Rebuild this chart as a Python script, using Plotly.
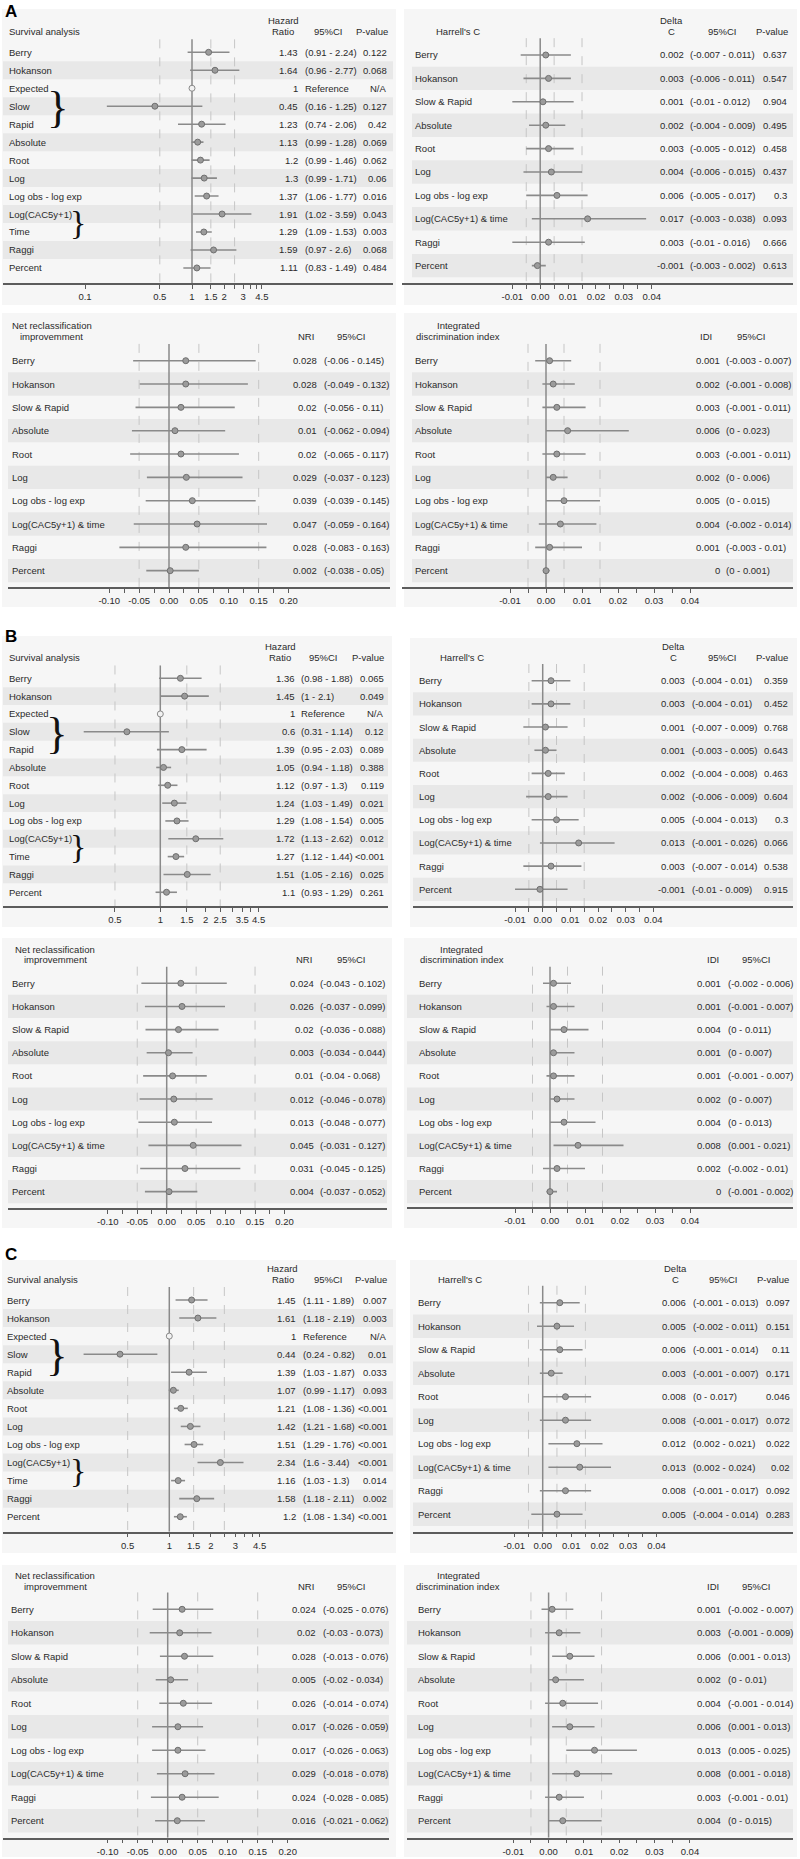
import plotly.graph_objects as go

W, H = 800, 1859

# ---------------- data ----------------
surv_labels = ["Berry", "Hokanson", "Expected", "Slow", "Rapid", "Absolute", "Root", "Log",
               "Log obs - log exp", "Log(CAC5y+1)", "Time", "Raggi", "Percent"]
disc_labels = ["Berry", "Hokanson", "Slow & Rapid", "Absolute", "Root", "Log",
               "Log obs - log exp", "Log(CAC5y+1) & time", "Raggi", "Percent"]

# Panel A
A_surv_hr = [1.43, 1.64, 1, 0.45, 1.23, 1.13, 1.2, 1.3, 1.37, 1.91, 1.29, 1.59, 1.11]
A_surv_lo = [0.91, 0.96, None, 0.16, 0.74, 0.99, 0.99, 0.99, 1.06, 1.02, 1.09, 0.97, 0.83]
A_surv_hi = [2.24, 2.77, None, 1.25, 2.06, 1.28, 1.46, 1.71, 1.77, 3.59, 1.53, 2.6, 1.49]
A_surv_p = ["0.122", "0.068", "N/A", "0.127", "0.42", "0.069", "0.062", "0.06", "0.016",
            "0.043", "0.003", "0.068", "0.484"]

A_c_est = [0.002, 0.003, 0.001, 0.002, 0.003, 0.004, 0.006, 0.017, 0.003, -0.001]
A_c_lo = [-0.007, -0.006, -0.01, -0.004, -0.005, -0.006, -0.005, -0.003, -0.01, -0.003]
A_c_hi = [0.011, 0.011, 0.012, 0.009, 0.012, 0.015, 0.017, 0.038, 0.016, 0.002]
A_c_p = ["0.637", "0.547", "0.904", "0.495", "0.458", "0.437", "0.3", "0.093", "0.666", "0.613"]

A_nri_est = [0.028, 0.028, 0.02, 0.01, 0.02, 0.029, 0.039, 0.047, 0.028, 0.002]
A_nri_lo = [-0.06, -0.049, -0.056, -0.062, -0.065, -0.037, -0.039, -0.059, -0.083, -0.038]
A_nri_hi = [0.145, 0.132, 0.11, 0.094, 0.117, 0.123, 0.145, 0.164, 0.163, 0.05]

A_idi_est = [0.001, 0.002, 0.003, 0.006, 0.003, 0.002, 0.005, 0.004, 0.001, 0]
A_idi_lo = [-0.003, -0.001, -0.001, 0, -0.001, 0, 0, -0.002, -0.003, 0]
A_idi_hi = [0.007, 0.008, 0.011, 0.023, 0.011, 0.006, 0.015, 0.014, 0.01, 0.001]

# Panel B
B_surv_hr = [1.36, 1.45, 1, 0.6, 1.39, 1.05, 1.12, 1.24, 1.29, 1.72, 1.27, 1.51, 1.1]
B_surv_lo = [0.98, 1, None, 0.31, 0.95, 0.94, 0.97, 1.03, 1.08, 1.13, 1.12, 1.05, 0.93]
B_surv_hi = [1.88, 2.1, None, 1.14, 2.03, 1.18, 1.3, 1.49, 1.54, 2.62, 1.44, 2.16, 1.29]
B_surv_p = ["0.065", "0.049", "N/A", "0.12", "0.089", "0.388", "0.119", "0.021", "0.005",
            "0.012", "<0.001", "0.025", "0.261"]

B_c_est = [0.003, 0.003, 0.001, 0.001, 0.002, 0.002, 0.005, 0.013, 0.003, -0.001]
B_c_lo = [-0.004, -0.004, -0.007, -0.003, -0.004, -0.006, -0.004, -0.001, -0.007, -0.01]
B_c_hi = [0.01, 0.01, 0.009, 0.005, 0.008, 0.009, 0.013, 0.026, 0.014, 0.009]
B_c_p = ["0.359", "0.452", "0.768", "0.643", "0.463", "0.604", "0.3", "0.066", "0.538", "0.915"]

B_nri_est = [0.024, 0.026, 0.02, 0.003, 0.01, 0.012, 0.013, 0.045, 0.031, 0.004]
B_nri_lo = [-0.043, -0.037, -0.036, -0.034, -0.04, -0.046, -0.048, -0.031, -0.045, -0.037]
B_nri_hi = [0.102, 0.099, 0.088, 0.044, 0.068, 0.078, 0.077, 0.127, 0.125, 0.052]

B_idi_est = [0.001, 0.001, 0.004, 0.001, 0.001, 0.002, 0.004, 0.008, 0.002, 0]
B_idi_lo = [-0.002, -0.001, 0, 0, -0.001, 0, 0, 0.001, -0.002, -0.001]
B_idi_hi = [0.006, 0.007, 0.011, 0.007, 0.007, 0.007, 0.013, 0.021, 0.01, 0.002]

# Panel C
C_surv_hr = [1.45, 1.61, 1, 0.44, 1.39, 1.07, 1.21, 1.42, 1.51, 2.34, 1.16, 1.58, 1.2]
C_surv_lo = [1.11, 1.18, None, 0.24, 1.03, 0.99, 1.08, 1.21, 1.29, 1.6, 1.03, 1.18, 1.08]
C_surv_hi = [1.89, 2.19, None, 0.82, 1.87, 1.17, 1.36, 1.68, 1.76, 3.44, 1.3, 2.11, 1.34]
C_surv_p = ["0.007", "0.003", "N/A", "0.01", "0.033", "0.093", "<0.001", "<0.001", "<0.001",
            "<0.001", "0.014", "0.002", "<0.001"]

C_c_est = [0.006, 0.005, 0.006, 0.003, 0.008, 0.008, 0.012, 0.013, 0.008, 0.005]
C_c_lo = [-0.001, -0.002, -0.001, -0.001, 0, -0.001, 0.002, 0.002, -0.001, -0.004]
C_c_hi = [0.013, 0.011, 0.014, 0.007, 0.017, 0.017, 0.021, 0.024, 0.017, 0.014]
C_c_p = ["0.097", "0.151", "0.11", "0.171", "0.046", "0.072", "0.022", "0.02", "0.092", "0.283"]

C_nri_est = [0.024, 0.02, 0.028, 0.005, 0.026, 0.017, 0.017, 0.029, 0.024, 0.016]
C_nri_lo = [-0.025, -0.03, -0.013, -0.02, -0.014, -0.026, -0.026, -0.018, -0.028, -0.021]
C_nri_hi = [0.076, 0.073, 0.076, 0.034, 0.074, 0.059, 0.063, 0.078, 0.085, 0.062]

C_idi_est = [0.001, 0.003, 0.006, 0.002, 0.004, 0.006, 0.013, 0.008, 0.003, 0.004]
C_idi_lo = [-0.002, -0.001, 0.001, 0, -0.001, 0.001, 0.005, 0.001, -0.001, 0]
C_idi_hi = [0.007, 0.009, 0.013, 0.01, 0.014, 0.013, 0.025, 0.018, 0.01, 0.015]

# tick values
surv_ticks_A = [0.1, 0.5, 1, 1.5, 2, 3, 4.5]
surv_minor_A = [2.5, 3.5, 4]
surv_ticks_B = [0.5, 1, 1.5, 2, 2.5, 3.5, 4.5]
surv_minor_B = [3, 4]
surv_ticks_C = [0.5, 1, 1.5, 2, 3, 4.5]
surv_minor_C = [2.5, 3.5, 4]
small_ticks = [-0.01, 0, 0.01, 0.02, 0.03, 0.04]
small_minor = [-0.005, 0.005, 0.015, 0.025, 0.035]
nri_ticks = [-0.10, -0.05, 0, 0.05, 0.10, 0.15, 0.20]
nri_minor = [-0.075, -0.025, 0.025, 0.075, 0.125, 0.175]

surv_dashes = [0.5, 1.5, 2.5]
small_dashes = [-0.005, 0.005, 0.015]
nri_dashes = [-0.05, 0.05, 0.15]

# ---------------- geometry (pixels) ----------------
GEOM = {
    "A_surv": dict(top=9, bot=305, bx0=2, bx1=396, x0=3, x1=393, sx0=3, first=52.3, sp=17.97, axis=283.3,
                   zero=192, scale=107, head=31.7, lab=7.3, est=300, ci=302.7, pv=389.3,
                   c1=283.3, c2=328.3, c3=390, br1=58, br2=78.3),
    "A_harr": dict(top=9, bot=305, bx0=404, bx1=797, x0=402, x1=793, sx0=412, first=55, sp=23.4, axis=283.3,
                   zero=540.2, scale=2788, head=31.7, lab=413.3, est=685.6, ci=688.2, pv=789.3,
                   c0=458.3, c1=671.7, c2=722.7, c3=790),
    "A_nri": dict(top=313, bot=607, bx0=2, bx1=396, x0=8, x1=390, sx0=8, first=360.7, sp=23.33, axis=587.3,
                  zero=169, scale=597.7, head=336.7, lab=10, est=318.9, ci=321.6,
                  c0=51.7, c1=306, c2=351.7),
    "A_idi": dict(top=313, bot=607, bx0=404, bx1=797, x0=402, x1=793, sx0=412, first=360.7, sp=23.33, axis=587.3,
                  zero=546, scale=3600, head=336.7, lab=413.3, est=721.6, ci=724.2,
                  c0=458.3, c1=705.7, c2=751.7),
    "B_surv": dict(top=636, bot=927, bx0=2, bx1=392, x0=3, x1=388, sx0=3, first=678.3, sp=17.83, axis=906,
                   zero=160.3, scale=150.6, head=657.3, lab=6.7, est=296.6, ci=299.3, pv=385.7,
                   c1=280, c2=323.3, c3=385.7, br1=57.5, br2=78.3),
    "B_harr": dict(top=638, bot=927, bx0=410, bx1=797, x0=413, x1=793, sx0=413, first=680.7, sp=23.18, axis=906,
                   zero=542.7, scale=2766, head=657.3, lab=417.3, est=687.2, ci=689.9, pv=790,
                   c0=461.7, c1=673.3, c2=722.7, c3=790),
    "B_nri": dict(top=938, bot=1228, bx0=2, bx1=392, x0=8, x1=387, sx0=8, first=983.3, sp=23.15, axis=1208.3,
                  zero=166.7, scale=589, head=960, lab=10, est=315.6, ci=318.2,
                  c0=55, c1=303.7, c2=351.7),
    "B_idi": dict(top=938, bot=1228, bx0=404, bx1=797, x0=407, x1=793, sx0=407, first=983.3, sp=23.15, axis=1207.3,
                  zero=550, scale=3500, head=960, lab=417.3, est=723.2, ci=725.9,
                  c0=461.7, c1=712.7, c2=756.7),
    "C_surv": dict(top=1260, bot=1553, bx0=2, bx1=396, x0=3, x1=393, sx0=3, first=1300, sp=18.06, axis=1531.7,
                   zero=169.3, scale=138.3, head=1279.3, lab=5, est=298.2, ci=301, pv=389,
                   c1=282.7, c2=328.3, c3=389.3, br1=57.5, br2=78.3),
    "C_harr": dict(top=1260, bot=1553, bx0=410, bx1=797, x0=413, x1=793, sx0=413, first=1302.7, sp=23.5, axis=1531.7,
                   zero=542.7, scale=2848, head=1279.3, lab=415.7, est=687.9, ci=690.6, pv=791.7,
                   c0=460, c1=675, c2=723.3, c3=790.7),
    "C_nri": dict(top=1565, bot=1857, bx0=2, bx1=396, x0=3, x1=389, sx0=8, first=1609.3, sp=23.49, axis=1837.7,
                  zero=167.7, scale=600, head=1586.7, lab=9, est=318.2, ci=320.9,
                  c0=55, c1=306, c2=351.7),
    "C_idi": dict(top=1565, bot=1857, bx0=404, bx1=797, x0=407, x1=793, sx0=407, first=1609.3, sp=23.49, axis=1837.7,
                  zero=548.6, scale=3533, head=1586.7, lab=415.7, est=722.9, ci=725.6,
                  c0=458.3, c1=712.7, c2=756.7),
}

PANELS = [
    ("surv", "A_surv", surv_labels, A_surv_hr, A_surv_lo, A_surv_hi, A_surv_p, surv_ticks_A, surv_minor_A),
    ("harr", "A_harr", disc_labels, A_c_est, A_c_lo, A_c_hi, A_c_p, small_ticks, small_minor),
    ("nri", "A_nri", disc_labels, A_nri_est, A_nri_lo, A_nri_hi, None, nri_ticks, nri_minor),
    ("idi", "A_idi", disc_labels, A_idi_est, A_idi_lo, A_idi_hi, None, small_ticks, small_minor),
    ("surv", "B_surv", surv_labels, B_surv_hr, B_surv_lo, B_surv_hi, B_surv_p, surv_ticks_B, surv_minor_B),
    ("harr", "B_harr", disc_labels, B_c_est, B_c_lo, B_c_hi, B_c_p, small_ticks, small_minor),
    ("nri", "B_nri", disc_labels, B_nri_est, B_nri_lo, B_nri_hi, None, nri_ticks, nri_minor),
    ("idi", "B_idi", disc_labels, B_idi_est, B_idi_lo, B_idi_hi, None, small_ticks, small_minor),
    ("surv", "C_surv", surv_labels, C_surv_hr, C_surv_lo, C_surv_hi, C_surv_p, surv_ticks_C, surv_minor_C),
    ("harr", "C_harr", disc_labels, C_c_est, C_c_lo, C_c_hi, C_c_p, small_ticks, small_minor),
    ("nri", "C_nri", disc_labels, C_nri_est, C_nri_lo, C_nri_hi, None, nri_ticks, nri_minor),
    ("idi", "C_idi", disc_labels, C_idi_est, C_idi_lo, C_idi_hi, None, small_ticks, small_minor),
]

LETTERS = [("A", 11), ("B", 636), ("C", 1254)]

# ---------------- styles ----------------
FONT = "Liberation Sans, Arial, sans-serif"
FS = 9.5
TEXT = "#2a2a2a"
AXIS_COL = "#5c5c5c"
CI_COL = "#8a8a8a"
REF_COL = "#8a8a8a"
DASH_COL = "#c6c6c6"
BG_COL = "#f6f6f6"
STRIPE_COL = "#e8e8e8"


def fmt(v):
    return "%g" % v


def esc(s):
    return s.replace("<", "&lt;")


fig = go.Figure()
layout = {}
annotations = []
shapes = []


def txt(text, x, y, yref="paper", xanchor="left", size=FS, color=TEXT, family=FONT, yshift=0):
    annotations.append(dict(
        text=text, x=x / W, xref="paper", y=(1 - y / H) if yref == "paper" else y, yref=yref,
        xanchor=xanchor, yanchor="middle", showarrow=False, yshift=yshift,
        font=dict(family=family, size=size, color=color)))


for k, (kind, key, labels, est, lo, hi, pvals, tmajor, tminor) in enumerate(PANELS, start=1):
    g = GEOM[key]
    s = "" if k == 1 else str(k)
    xref, yref = "x" + s, "y" + s
    n = len(labels)
    ybot = (g["axis"] - g["first"]) / g["sp"]
    ytop = (g["top"] - g["first"]) / g["sp"]
    islog = kind == "surv"
    xr = [(g["x0"] - g["zero"]) / g["scale"], (g["x1"] - g["zero"]) / g["scale"]]

    if islog:
        ttext = [fmt(v) for v in tmajor]
    else:
        ttext = ["%.2f" % v for v in tmajor]
    tvals = list(tmajor) + list(tminor)
    ttext = ttext + [""] * len(tminor)

    layout["xaxis" + s] = dict(
        type="log" if islog else "linear", domain=[g["x0"] / W, g["x1"] / W], range=xr,
        anchor=yref, showline=True, linecolor=AXIS_COL, linewidth=1.5, ticks="outside",
        ticklen=4, tickwidth=1, tickcolor=AXIS_COL, tickmode="array", tickvals=tvals,
        ticktext=ttext, tickfont=dict(family=FONT, size=FS, color=TEXT), showgrid=False,
        zeroline=False, fixedrange=True)
    layout["yaxis" + s] = dict(
        domain=[1 - g["axis"] / H, 1 - g["top"] / H], range=[ybot, ytop], visible=False,
        fixedrange=True, anchor=xref)

    # panel background
    shapes.append(dict(type="rect", xref="paper", yref="paper", x0=g["bx0"] / W, x1=g["bx1"] / W,
                       y0=1 - g["bot"] / H, y1=1 - g["top"] / H, fillcolor=BG_COL,
                       line=dict(width=0), layer="below"))
    # stripes
    for i in range(1, n, 2):
        shapes.append(dict(type="rect", xref="paper", yref=yref, x0=g["sx0"] / W, x1=g["x1"] / W,
                           y0=i - 0.5, y1=i + 0.5, fillcolor=STRIPE_COL, line=dict(width=0),
                           layer="below"))

    # dashed guide lines and reference line
    if kind == "surv":
        dashes, ref = surv_dashes, 1
    elif kind == "nri":
        dashes, ref = nri_dashes, 0
    else:
        dashes, ref = small_dashes, 0
    dx, dy = [], []
    for v in dashes:
        dx += [v, v, None]
        dy += [-0.72, ybot, None]
    fig.add_trace(go.Scatter(x=dx, y=dy, mode="lines", xaxis=xref, yaxis=yref, hoverinfo="skip",
                             line=dict(color=DASH_COL, width=1, dash="dash")))
    fig.add_trace(go.Scatter(x=[ref, ref], y=[-0.72, ybot], mode="lines", xaxis=xref, yaxis=yref,
                             hoverinfo="skip", line=dict(color=REF_COL, width=1.5)))

    # CI lines
    cx, cy = [], []
    mx, my = [], []
    ox, oy = [], []
    for i in range(n):
        if lo[i] is None:
            ox.append(est[i])
            oy.append(i)
            continue
        cx += [lo[i], hi[i], None]
        cy += [i, i, None]
        mx.append(est[i])
        my.append(i)
    fig.add_trace(go.Scatter(x=cx, y=cy, mode="lines", xaxis=xref, yaxis=yref,
                             line=dict(color=CI_COL, width=1.6)))
    fig.add_trace(go.Scatter(x=mx, y=my, mode="markers", xaxis=xref, yaxis=yref,
                             marker=dict(size=6, color="#9b9b9b", line=dict(color="#6f6f6f", width=1))))
    if ox:
        fig.add_trace(go.Scatter(x=ox, y=oy, mode="markers", xaxis=xref, yaxis=yref,
                                 marker=dict(size=6, color="#f2f2f2", line=dict(color="#8a8a8a", width=1))))

    # row texts
    for i in range(n):
        txt(labels[i], g["lab"], i, yref=yref)
        txt(fmt(est[i]), g["est"], i, yref=yref, xanchor="right")
        ci = "Reference" if lo[i] is None else "(%s - %s)" % (fmt(lo[i]), fmt(hi[i]))
        txt(ci, g["ci"], i, yref=yref)
        if pvals is not None:
            txt(esc(pvals[i]), g["pv"], i, yref=yref, xanchor="right")

    # headers
    hy = g["head"]
    if kind == "surv":
        txt("Survival analysis", g["lab"], hy)
        txt("Hazard", g["c1"], hy - 11, xanchor="center")
        txt("Ratio", g["c1"], hy, xanchor="center")
        txt("95%CI", g["c2"], hy, xanchor="center")
        txt("P-value", g["c3"], hy, xanchor="right")
        # braces grouping the trajectory categories
        annotations.append(dict(text="}", x=g["br1"] / W, xref="paper", y=3, yref=yref,
                                xanchor="center", yanchor="middle", showarrow=False, yshift=-1,
                                font=dict(family="Liberation Serif, serif", size=45, color="#111")))
        annotations.append(dict(text="}", x=g["br2"] / W, xref="paper", y=9.5, yref=yref,
                                xanchor="center", yanchor="middle", showarrow=False, yshift=1,
                                font=dict(family="Liberation Serif, serif", size=34, color="#111")))
    elif kind == "harr":
        txt("Harrell's C", g["c0"], hy, xanchor="center")
        txt("Delta", g["c1"], hy - 11, xanchor="center")
        txt("C", g["c1"], hy, xanchor="center")
        txt("95%CI", g["c2"], hy, xanchor="center")
        txt("P-value", g["c3"], hy, xanchor="right")
    elif kind == "nri":
        txt("Net reclassification", g["c0"], hy - 11, xanchor="center")
        txt("improvemment", g["c0"], hy, xanchor="center")
        txt("NRI", g["c1"], hy, xanchor="center")
        txt("95%CI", g["c2"], hy, xanchor="center")
    else:
        txt("Integrated", g["c0"], hy - 11, xanchor="center")
        txt("discrimination index", g["c0"], hy, xanchor="center")
        txt("IDI", g["c1"], hy, xanchor="center")
        txt("95%CI", g["c2"], hy, xanchor="center")

for letter, ly in LETTERS:
    annotations.append(dict(text="<b>%s</b>" % letter, x=3 / W, xref="paper", y=1 - ly / H,
                            yref="paper", xanchor="left", yanchor="middle", showarrow=False,
                            font=dict(family=FONT, size=17, color="#000")))

fig.update_layout(
    width=W, height=H, margin=dict(l=0, r=0, t=0, b=0),
    paper_bgcolor="white", plot_bgcolor="rgba(0,0,0,0)", showlegend=False,
    annotations=annotations, shapes=shapes, **layout)

fig.write_html(
    "out.html",
    config={"displayModeBar": False},
    post_script="document.body.style.margin='0';document.body.style.padding='0';"
                "document.documentElement.style.overflow='hidden';document.body.style.overflow='hidden';")
